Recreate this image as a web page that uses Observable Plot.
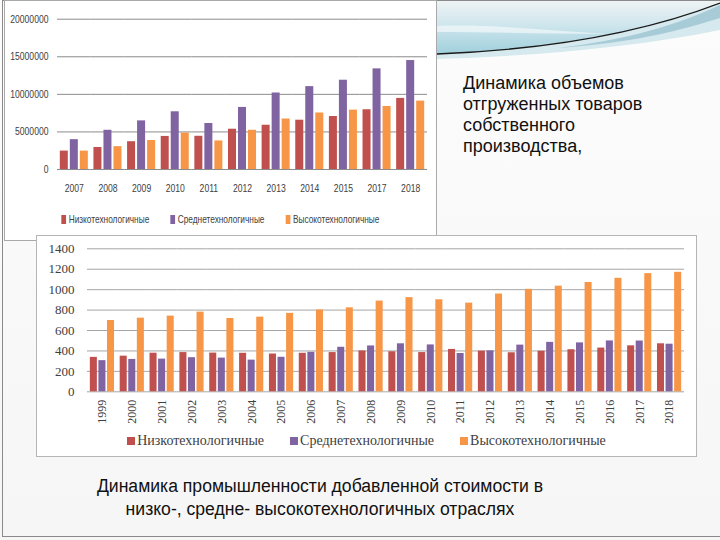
<!DOCTYPE html>
<html>
<head>
<meta charset="utf-8">
<script src="https://cdn.jsdelivr.net/npm/d3@7"></script>
<script src="https://cdn.jsdelivr.net/npm/@observablehq/plot@0.6"></script>
<style>
  html, body { margin: 0; padding: 0; background: #fff; }
  #slide { position: relative; width: 720px; height: 540px; overflow: hidden;
           background: linear-gradient(180deg, #fcfcfc 0%, #f6f6f6 100%); }
  #frame { position: absolute; left: 2px; top: 0; width: 730px; height: 537px;
           border: 1px solid #8a8a8a; box-sizing: border-box; }
  .box { position: absolute; background: #fff; box-sizing: border-box; }
  #c1 { left: 4px; top: 0; width: 433px; height: 241px; border: 1px solid #a9a9a9; }
  #c2 { left: 36px; top: 235px; width: 661px; height: 222px; border: 1px solid #b5b5b5; }
  .legend { position: absolute; left: 0; right: 0; display: flex; justify-content: center; align-items: center; color: #404040; }
  #l1 { top: 211px; height: 14px; gap: 27px; font-family: "Liberation Sans", Arial, sans-serif; font-size: 10.5px; transform: scaleX(0.79); }
  #l1 i { display: inline-block; width: 6px; height: 9px; margin-right: 3px; vertical-align: -1px; }
  #l2 { top: 197px; height: 16px; gap: 26px; font-family: "Liberation Serif", "Times New Roman", serif; font-size: 14px; }
  #l2 i { display: inline-block; width: 8px; height: 8px; margin-right: 2px; vertical-align: 0px; }
  .txt { position: absolute; font-family: "Liberation Sans", Arial, sans-serif; color: #111; }
  #t1 { left: 463px; top: 73px; font-size: 18px; line-height: 21px; }
  #t2 { left: 60px; width: 520px; top: 475px; font-size: 17.6px; line-height: 22.5px; text-align: center; }
  #wave { position: absolute; left: 437px; top: 0; }
</style>
</head>
<body>
<div id="slide">
  <div id="frame"></div>
  <svg id="wave" width="283" height="62" viewBox="0 0 283 62">
    <defs>
      <linearGradient id="gb" x1="0" y1="0" x2="0" y2="1">
        <stop offset="0" stop-color="#eef3f5"/>
        <stop offset="0.45" stop-color="#cfe6ed"/>
        <stop offset="1" stop-color="#9fcfdc"/>
      </linearGradient>
    </defs>
    <path d="M0,1 L283,1 L283,3 C200,35 100,50 0,54 Z" fill="url(#gb)"/>
    <path d="M0,26 C50,24 110,30 170,34 C110,34 50,32 0,32 Z" fill="#ffffff" opacity="0.55"/>
    <path d="M0,54 C100,50 200,35 283,3 L283,30 C200,47 100,56 0,59 Z" fill="#d6e9ef"/>
    <path d="M120,48 C190,40 240,25 283,5 L283,18 C230,35 180,44 120,48 Z" fill="#a8ccd7"/>
    <path d="M0,54 C100,50 200,35 283,3" fill="none" stroke="#1a1a1a" stroke-width="1.3"/>
  </svg>
  <div id="c1" class="box"><div id="p1"></div><div id="l1" class="legend"></div></div>
  <div id="t1" class="txt">Динамика объемов<br>отгруженных товаров<br>собственного<br>производства,</div>
  <div id="c2" class="box"><div id="p2"></div><div id="l2" class="legend"></div></div>
  <div id="t2" class="txt">Динамика промышленности добавленной стоимости в<br>низко-, средне- высокотехнологичных отраслях</div>
</div>
<script>
// ---- shared
const series = ["Низкотехнологичные", "Среднетехнологичные", "Высокотехнологичные"];
const colors = ["#C0504D", "#8064A2", "#F79646"];

// ---- chart 1: отгруженные товары
const years1 = ["2007", "2008", "2009", "2010", "2011", "2012", "2013", "2014", "2015", "2017", "2018"];
const low1  = [2450000, 2930000, 3700000, 4400000, 4420000, 5360000, 5890000, 6560000, 7050000, 7950000, 9460000];
const mid1  = [3970000, 5220000, 6470000, 7680000, 6120000, 8260000, 10180000, 11030000, 11880000, 13390000, 14500000];
const high1 = [2450000, 3040000, 3860000, 4850000, 3800000, 5220000, 6720000, 7520000, 7900000, 8390000, 9100000];
const yTicks1 = [0, 5000000, 10000000, 15000000, 20000000];

// ---- chart 2: добавленная стоимость
const years2 = ["1999", "2000", "2001", "2002", "2003", "2004", "2005", "2006", "2007", "2008",
                "2009", "2010", "2011", "2012", "2013", "2014", "2015", "2016", "2017", "2018"];
const low2  = [337, 349, 378, 384, 379, 377, 370, 377, 384, 400, 392, 384, 415, 398, 382, 397, 412, 428, 450, 470];
const mid2  = [305, 317, 320, 334, 330, 310, 338, 387, 436, 449, 470, 459, 375, 401, 457, 484, 479, 498, 497, 466];
const high2 = [698, 721, 741, 780, 718, 731, 768, 801, 822, 888, 922, 901, 868, 957, 1003, 1034, 1070, 1111, 1157, 1170];
const yTicks2 = [0, 200, 400, 600, 800, 1000, 1200, 1400];

function toRows(years, cols) {
  return years.flatMap((yr, i) => series.map((s, j) => ({year: yr, series: s, value: cols[j][i]})));
}
const rows1 = toRows(years1, [low1, mid1, high1]);
const rows2 = toRows(years2, [low2, mid2, high2]);

const sans = '"Liberation Sans", Arial, sans-serif';
const serif = '"Liberation Serif", "Times New Roman", serif';

const plot1 = Plot.plot({
  width: 431, height: 200,
  marginLeft: 52, marginRight: 9, marginTop: 17.7, marginBottom: 32,
  style: {fontFamily: sans, fontSize: "10.5px", color: "#404040", background: "transparent"},
  fx: {domain: years1, padding: 0, round: false, label: null, tickSize: 0, tickPadding: 15, axis: "bottom"},
  x: {domain: series, axis: null, round: false, paddingInner: 0.2, paddingOuter: 0.28},
  y: {domain: [0, 20000000], ticks: yTicks1, tickSize: 0, tickPadding: 9, tickFormat: d3.format("d"), label: null},
  color: {domain: series, range: colors},
  marks: [
    Plot.ruleY(yTicks1, {stroke: "#8c8c8c", strokeWidth: 1}),
    Plot.barY(rows1, {fx: "year", x: "series", y: "value", fill: "series"})
  ]
});
document.getElementById("p1").appendChild(plot1);
// condensed (Calibri-like) tick labels
plot1.querySelectorAll("text").forEach(t => {
  const len = t.getComputedTextLength();
  if (len > 0) { t.setAttribute("textLength", (len * 0.82).toFixed(2)); t.setAttribute("lengthAdjust", "spacingAndGlyphs"); }
});

const plot2 = Plot.plot({
  width: 659, height: 190,
  marginLeft: 50, marginRight: 12, marginTop: 12.3, marginBottom: 34.7,
  style: {fontFamily: serif, fontSize: "13px", color: "#404040", background: "transparent"},
  fx: {domain: years2, padding: 0, round: false, label: null, tickSize: 0, tickPadding: 8, tickRotate: -90, axis: "bottom"},
  x: {domain: series, axis: null, round: false, paddingInner: 0.18, paddingOuter: 0.33},
  y: {domain: [0, 1400], ticks: yTicks2, tickSize: 0, tickPadding: 13, tickFormat: d3.format("d"), label: null},
  color: {domain: series, range: colors},
  marks: [
    Plot.ruleY(yTicks2, {stroke: "#a6a6a6", strokeWidth: 1}),
    Plot.barY(rows2, {fx: "year", x: "series", y: "value", fill: "series"})
  ]
});
document.getElementById("p2").appendChild(plot2);
plot2.querySelectorAll('g[aria-label="fx-axis tick label"] text').forEach(t => t.style.fontSize = "12px");

function legend(id) {
  const el = document.getElementById(id);
  series.forEach((s, i) => {
    const span = document.createElement("span");
    const sw = document.createElement("i");
    sw.style.background = colors[i];
    span.appendChild(sw);
    span.appendChild(document.createTextNode(s));
    el.appendChild(span);
  });
}
legend("l1");
legend("l2");
</script>
</body>
</html>
